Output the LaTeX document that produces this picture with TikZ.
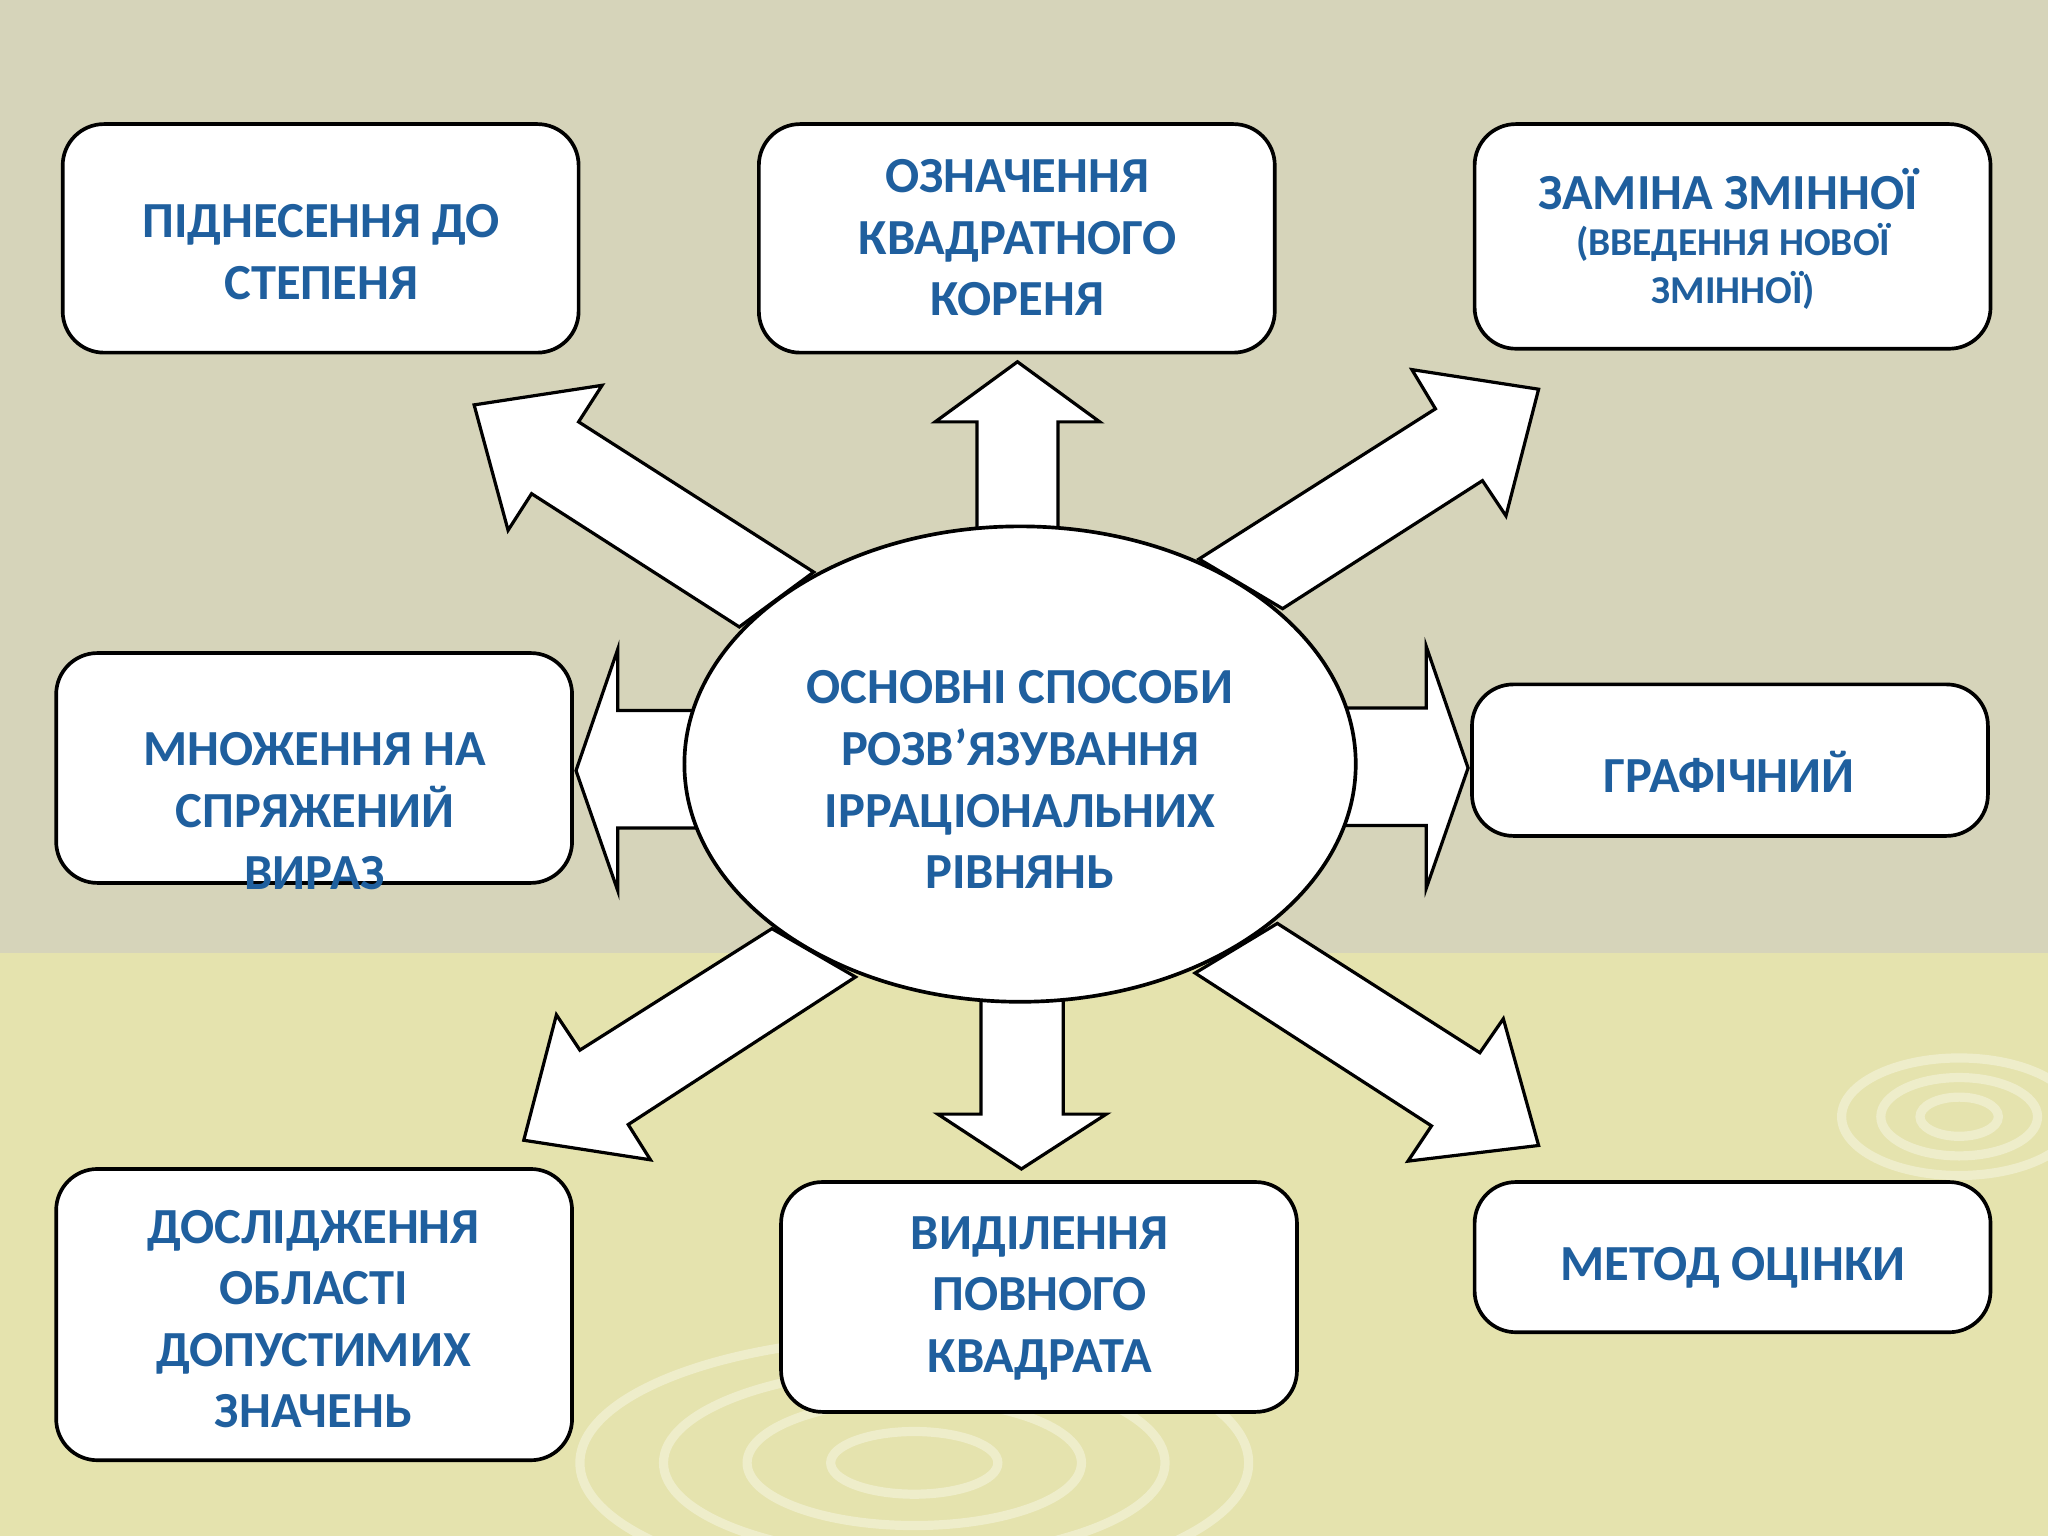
\documentclass[tikz,border=0pt]{standalone}
\usepackage{fontspec}
\setmainfont{Carlito}
\definecolor{bgtop}{HTML}{D6D4BA}
\definecolor{bgbot}{HTML}{E5E3AE}
\definecolor{txt}{HTML}{1F5F9E}
\begin{document}
\begin{tikzpicture}[x=0.01cm,y=-0.01cm,
 box/.style={draw=black,fill=white,rounded corners=9pt,line width=0.8pt},
 lbl/.style={text=txt,font=\bfseries\fontsize{11}{13.4}\selectfont,align=center},
 blk/.style={draw=black,fill=white,line width=0.7pt,line join=miter}]
\useasboundingbox (0,0) rectangle (1568,1176);
\clip (0,0) rectangle (1568,1176);
\fill[bgtop] (0,0) rectangle (1568,730);
\fill[bgbot] (0,730) rectangle (1568,1176);
\foreach \r in {40,80,120,160}{\draw[white!35!bgbot,line width=2pt] (700,1120) ellipse ({\r*1.6} and \r*0.6);}
\foreach \r in {30,60,90}{\draw[white!35!bgbot,line width=2pt] (1500,855) ellipse ({\r} and \r*0.5);}
% arrows
\draw[blk] (748,420)--(748,323)--(716,323)--(779,277)--(842,323)--(810,323)--(810,420)--cycle;
\draw[blk] (751,750)--(751,853)--(718,853)--(782,895)--(847,853)--(814,853)--(814,750)--cycle;
\draw[blk] (540,544)--(473,544)--(473,497)--(441,590)--(473,682)--(473,634)--(540,634)--cycle;
\draw[blk] (1020,542)--(1092,542)--(1092,495)--(1124,588)--(1092,680)--(1092,632)--(1020,632)--cycle;
\draw[blk] (623,438)--(443,323)--(461,295)--(363,310)--(389,406)--(407,378)--(566,480)--cycle;
\draw[blk] (918,428)--(1099,313)--(1081,283)--(1178,298)--(1153,395)--(1135,368)--(982,466)--cycle;
\draw[blk] (591,711)--(444,804)--(426,777)--(401,873)--(498,888)--(481,861)--(655,748)--cycle;
\draw[blk] (915,745)--(1096,862)--(1078,889)--(1178,877)--(1151,780)--(1133,806)--(978,707)--cycle;
\draw[fill=white,line width=0.8pt] (781,585) ellipse (257 and 182);
\node[lbl] (ct) at (781,597) {ОСНОВНІ СПОСОБИ\\РОЗВ’ЯЗУВАННЯ\\ІРРАЦІОНАЛЬНИХ\\РІВНЯНЬ};
% boxes
\draw[box] (48,95) rectangle (443,270); \node[lbl] (b1) at (246,193) {ПІДНЕСЕННЯ ДО\\СТЕПЕНЯ};
\draw[box] (581,95) rectangle (976,270); \node[lbl] (b2) at (779,182) {ОЗНАЧЕННЯ\\КВАДРАТНОГО\\КОРЕНЯ};
\draw[box] (1129,95) rectangle (1524,267); \node[lbl] (b3) at (1323,145) {ЗАМІНА ЗМІННОЇ};
\node[lbl,font=\bfseries\fontsize{8.6}{10.5}\selectfont] (b3b) at (1327,204) {(ВВЕДЕННЯ НОВОЇ\\ЗМІННОЇ)};
\draw[box] (43,500) rectangle (438,676); \node[lbl] (b4) at (241,621) {МНОЖЕННЯ НА\\СПРЯЖЕНИЙ\\ВИРАЗ};
\draw[box] (1127,524) rectangle (1522,640); \node[lbl] (b5) at (1324,591) {ГРАФІЧНИЙ};
\draw[box] (43,895) rectangle (438,1118); \node[lbl] (b6) at (240,1010) {ДОСЛІДЖЕННЯ\\ОБЛАСТІ\\ДОПУСТИМИХ\\ЗНАЧЕНЬ};
\draw[box] (598,905) rectangle (993,1081); \node[lbl] (b7) at (796,994) {ВИДІЛЕННЯ\\ПОВНОГО\\КВАДРАТА};
\draw[box] (1129,905) rectangle (1524,1020); \node[lbl] (b8) at (1327,971) {МЕТОД ОЦІНКИ};
\end{tikzpicture}
\end{document}
